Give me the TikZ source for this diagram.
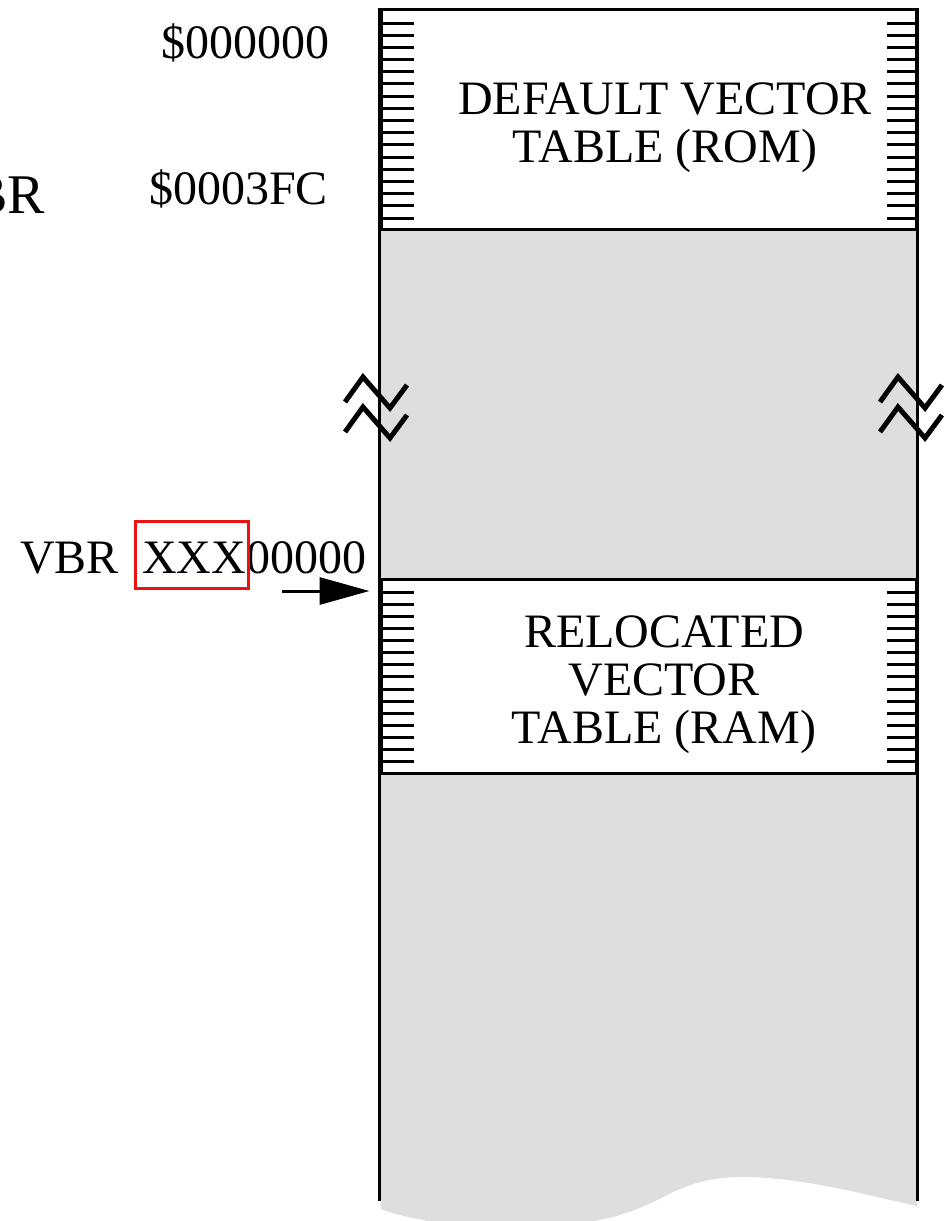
\documentclass[tikz,border=0pt]{standalone}
\usepackage{fontspec}
\setmainfont{Liberation Serif}
\usetikzlibrary{arrows.meta}
\definecolor{memgray}{HTML}{DEDEDE}
\definecolor{hilite}{HTML}{EE1111}

\begin{document}
\begin{tikzpicture}[x=1pt,y=-1pt,>=Latex,
 lbl/.style={font=\fontsize{48pt}{48pt}\selectfont,inner sep=0pt,align=center},
 tablebox/.style={draw,line width=3pt,fill=white,minimum width=535pt,inner sep=0pt},
 rule/.style={line width=3pt},
 hatch/.style={line width=3pt},
 brk/.style={line width=5pt,line join=miter},
 ptr/.style={-{Triangle[length=50pt,width=27pt]},line width=3pt}]
\useasboundingbox (0,0) rectangle (951,1221);
\clip (0,0) rectangle (951,1221);
\fill[memgray] (381,229) -- (916,229) -- (917,1206) .. controls (870,1196) and (800,1176) .. (737,1177) .. controls (705,1178) and (690,1185) .. (673,1192) .. controls (630,1215) and (600,1223) .. (560,1224) -- (447,1224) .. controls (420,1220) and (395,1215) .. (381,1209) -- cycle;
\node[tablebox,minimum height=220pt] (rom) at (648.5,119) {};
\node[tablebox,minimum height=194pt] (ram) at (648.5,676) {};
\draw[rule] (rom.north west) -- ++(0,1193);
\draw[rule] (rom.north east) -- ++(0,1193);
\foreach \i in {0,...,16}
  \draw[hatch] (381,{23+12.19*\i}) -- ++(33,0) (887,{23+12.19*\i}) -- ++(29,0);
\foreach \i in {0,...,14}
  \draw[hatch] (381,{592+12.14*\i}) -- ++(33,0) (887,{592+12.14*\i}) -- ++(29,0);
\foreach \x in {381,916}
  \foreach \dy in {0,30}
    \draw[brk] ({\x-36},{402+\dy}) -- ++(18,-25) -- ++(27,31) -- ++(17,-23);
\node[lbl] (romtext) at (665,128) {DEFAULT VECTOR\\TABLE (ROM)};
\node[lbl] (ramtext) at (664,685) {RELOCATED\\VECTOR\\TABLE (RAM)};
\node[lbl,anchor=base east] (start) at (330,58) {\$000000};
\node[lbl,anchor=base east] (last) at (328,204) {\$0003FC};
\node[lbl,anchor=base east,font=\fontsize{56pt}{58pt}\selectfont] (vbrcut) at (45,213) {VBR};
\node[lbl,anchor=base west] (vbr) at (20,573) {VBR};
\node[lbl,anchor=base west] (base) at (142,573) {XXX00000};
\node[draw=hilite,line width=3pt,minimum width=113pt,minimum height=67pt,inner sep=0pt] (xxxmark) at (191.5,554.5) {};
\coordinate (vbrtail) at (282,591);
\draw[ptr] (vbrtail) -- (vbrtail -| ram.west) [shorten >=10pt];
\end{tikzpicture}
\end{document}
